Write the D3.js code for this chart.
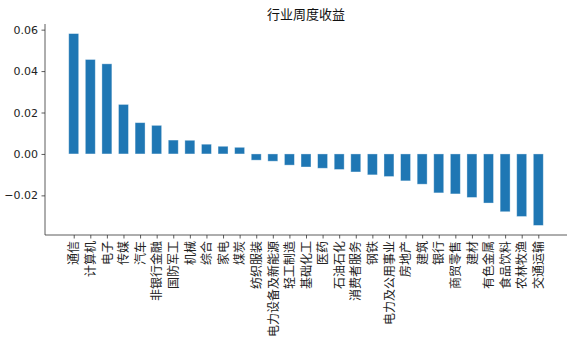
<!DOCTYPE html>
<html><head><meta charset="utf-8">
<script src="https://cdn.jsdelivr.net/npm/d3@7"></script>
<style>
body{margin:0;background:#fff;}
svg{display:block;}
</style></head>
<body>
<svg id="chart" width="576" height="346"></svg>
<script>
const categories = ["通信","计算机","电子","传媒","汽车","非银行金融","国防军工","机械","综合","家电","煤炭","纺织服装","电力设备及新能源","轻工制造","基础化工","医药","石油石化","消费者服务","钢铁","电力及公用事业","房地产","建筑","银行","商贸零售","建材","有色金属","食品饮料","农林牧渔","交通运输"];
const returns = [0.0581,0.0456,0.0435,0.0239,0.0151,0.0138,0.0067,0.0066,0.0047,0.0037,0.0032,-0.0030,-0.0035,-0.0054,-0.0063,-0.0069,-0.0075,-0.0087,-0.0101,-0.0109,-0.0130,-0.0146,-0.0188,-0.0193,-0.0210,-0.0237,-0.0279,-0.0302,-0.0345];
const yTicks = [-0.02,0.00,0.02,0.04,0.06];
const title = "行业周度收益";

(function(){
const svg = d3.select("#chart");
const mL = 45, mR = 567, mT = 24, mB = 235;
const x = d3.scalePoint().domain(categories).range([mL,mR]).padding(1.73);
const step = x.step();
const barW = step*0.6;
const ymin = d3.min(returns), ymax = d3.max(returns), yr = ymax-ymin;
const y = d3.scaleLinear().domain([ymin-0.05*yr, ymax+0.05*yr]).range([mB, mT]);

svg.append("g").selectAll("rect").data(returns).join("rect")
  .attr("x",(d,i)=>x(categories[i])-barW/2)
  .attr("width",barW)
  .attr("y",d=>Math.min(y(d),y(0)))
  .attr("height",d=>Math.abs(y(d)-y(0)))
  .attr("fill","#1f77b4")
  .attr("stroke","#ffffff").attr("stroke-opacity",0.45).attr("stroke-width",0.8);

const yAxis = svg.append("g").attr("transform",`translate(${mL},0)`)
  .call(d3.axisLeft(y).tickValues(yTicks).tickFormat(d3.format(".2f")).tickSizeOuter(0).tickSize(3.5).tickPadding(3.5));
yAxis.selectAll("text").attr("font-family","DejaVu Sans, sans-serif").attr("font-size","11px").attr("fill","#222");
yAxis.select(".domain").attr("d",`M0,${mT}V${mB}`);

const xAxis = svg.append("g").attr("transform",`translate(0,${mB})`)
  .call(d3.axisBottom(x).tickSizeOuter(0).tickSize(3.5));
xAxis.select(".domain").attr("d",`M${mL},0H${mR}`);
xAxis.selectAll("text")
  .attr("font-family","'Noto Sans CJK SC', sans-serif").attr("font-size","12px").attr("fill","#222")
  .attr("transform","rotate(-90)")
  .attr("text-anchor","end").attr("dy","0.35em").attr("x",-6).attr("y",0);
svg.selectAll(".domain, .tick line").attr("stroke","#333").attr("stroke-width",0.8);

svg.append("text").attr("x",(mL+mR)/2).attr("y",19).attr("text-anchor","middle")
  .attr("font-family","'Noto Sans CJK SC', sans-serif").attr("font-size","13px").attr("fill","#111")
  .text(title);
})();
</script>
</body></html>
